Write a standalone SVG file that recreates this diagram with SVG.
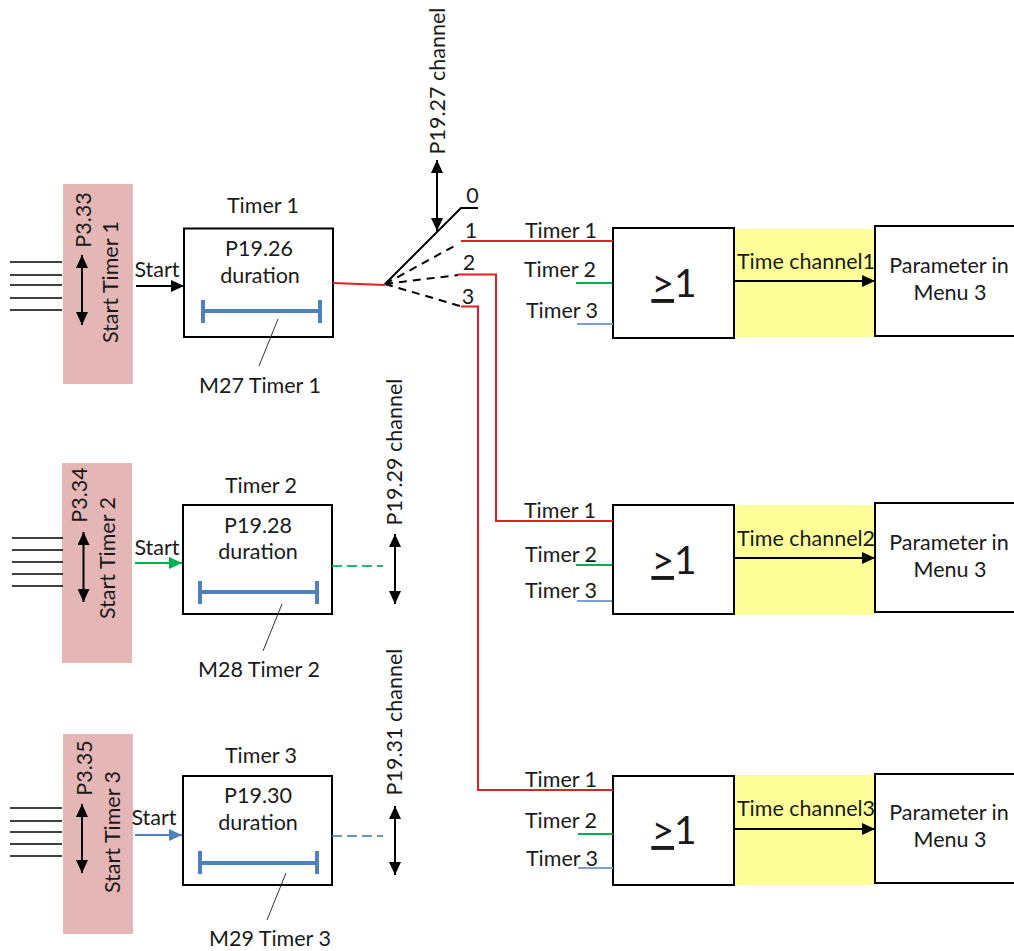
<svg xmlns="http://www.w3.org/2000/svg" width="1014" height="951" viewBox="0 0 1014 951">
<style>
text{font-family:"Lato","Open Sans","Liberation Sans",sans-serif;font-size:21.500px;fill:#1a1a1a;text-anchor:middle}
.box{fill:#fff;stroke:#000;stroke-width:2}
.pink{fill:#e4b6b5}
.yel{fill:#ffff99}
.k{stroke:#000;stroke-width:1.6;fill:none}
.k2{stroke:#000;stroke-width:2;fill:none}
.thin{stroke:#333;stroke-width:1;fill:none}
.r{stroke:#e81c24;stroke-width:2;fill:none}
.d{stroke:#000;stroke-width:2;stroke-dasharray:8 6;fill:none}
.bl{stroke:#4f81bd;stroke-width:4;fill:none}
.g{stroke:#00b050;stroke-width:2;fill:none}
.l{stroke:#7f9fd0;stroke-width:2;fill:none}
.gate{font-size:39px}
</style>
<defs>
<marker id="a" markerUnits="userSpaceOnUse" markerWidth="14" markerHeight="12" refX="13" refY="6" orient="auto-start-reverse"><path d="M0 0L13 6L0 12Z" fill="#000"/></marker>
<marker id="ag" markerUnits="userSpaceOnUse" markerWidth="14" markerHeight="12" refX="13" refY="6" orient="auto"><path d="M0 0L13 6L0 12Z" fill="#00b050"/></marker>
<marker id="ab" markerUnits="userSpaceOnUse" markerWidth="14" markerHeight="12" refX="13" refY="6" orient="auto"><path d="M0 0L13 6L0 12Z" fill="#4f81bd"/></marker>
</defs>
<g id="fills">
<rect class="yel" x="735" y="229" width="140" height="108"/>
<rect class="yel" x="735" y="505" width="140" height="110"/>
<rect class="yel" x="735" y="775" width="140" height="110"/>
</g>
<g id="start-timer-1"><rect class="pink" x="63" y="184" width="70" height="200"/>
<text transform="translate(91 220) rotate(-90)">P3.33</text><text transform="translate(118 282) rotate(-90)">Start Timer 1</text></g>
<g id="start-timer-2"><rect class="pink" x="62" y="463" width="70" height="200"/>
<text transform="translate(87 495) rotate(-90)">P3.34</text><text transform="translate(115 558) rotate(-90)">Start Timer 2</text></g>
<g id="start-timer-3"><rect class="pink" x="63" y="734" width="70" height="200"/>
<text transform="translate(92 768) rotate(-90)">P3.35</text><text transform="translate(120 832) rotate(-90)">Start Timer 3</text></g>
<g id="timer-1"><rect class="box" x="184" y="228.500" width="149" height="108.500"/><text x="263" y="212.500">Timer 1</text><text x="259" y="255.500">P19.26</text><text x="260" y="283">duration</text></g>
<g id="timer-2"><rect class="box" x="183" y="505" width="149" height="109"/><text x="261" y="492.500">Timer 2</text><text x="258" y="533">P19.28</text><text x="258" y="559">duration</text></g>
<g id="timer-3"><rect class="box" x="183" y="776" width="149" height="109"/><text x="261" y="762.500">Timer 3</text><text x="258" y="802.500">P19.30</text><text x="258" y="829.500">duration</text></g>
<g id="or-1"><rect class="box" x="613" y="228" width="121" height="110"/><text class="gate" x="674" y="297"><tspan text-decoration="underline">&gt;</tspan>1</text></g>
<g id="or-2"><rect class="box" x="613" y="505" width="121" height="109"/><text class="gate" x="674" y="574"><tspan text-decoration="underline">&gt;</tspan>1</text></g>
<g id="or-3"><rect class="box" x="613" y="776" width="121" height="109"/><text class="gate" x="674" y="844"><tspan text-decoration="underline">&gt;</tspan>1</text></g>
<g id="param-1"><rect class="box" x="875" y="226" width="141" height="110"/><text x="949" y="272.500">Parameter in</text><text x="950" y="299.500">Menu 3</text></g>
<g id="param-2"><rect class="box" x="875" y="503" width="141" height="109"/><text x="949" y="549.500">Parameter in</text><text x="950" y="577">Menu 3</text></g>
<g id="param-3"><rect class="box" x="875" y="774" width="141" height="109"/><text x="949" y="819.500">Parameter in</text><text x="950" y="846.500">Menu 3</text></g>
<g id="connectors">
<path class="k" d="M10 262H62M10 275H62M10 285H62M10 298H62M10 310H62"/>
<path class="k" d="M12 538H63M12 550H63M12 562H63M12 574H63M12 586H63"/>
<path class="k" d="M10 808H62M10 821H62M10 832H62M10 844H62M10 856H62"/>
<path class="k2" d="M82 255V325" marker-start="url(#a)" marker-end="url(#a)"/>
<path class="k2" d="M83.500 532V602" marker-start="url(#a)" marker-end="url(#a)"/>
<path class="k2" d="M82 804V873" marker-start="url(#a)" marker-end="url(#a)"/>
<path class="k2" d="M136 286H184" marker-end="url(#a)"/>
<path class="g" d="M135 563H182" marker-end="url(#ag)"/>
<path class="bl" style="stroke-width:2" d="M135 835H182" marker-end="url(#ab)"/>
<path class="bl" d="M203 311H320M203 300V323M320 300V323"/>
<path class="bl" d="M200 592H317M200 581V604M317 581V604"/>
<path class="bl" d="M200 863H317M200 851V874M317 851V874"/>
<path class="thin" d="M278 319L259 366"/><path class="thin" d="M282 604L263 651"/><path class="thin" d="M286 873L267 920"/>
<path class="r" d="M333 283L385 285"/>
<path class="k2" d="M385 284L461 208H478"/>
<path class="d" d="M385 284L458 244M385 284L458 275M385 284L460 306"/>
<path class="k2" d="M437 160V231" marker-start="url(#a)" marker-end="url(#a)"/>
<path class="r" d="M461 241H613M458 274.500H496V521H613M461 306.500H478V790H613"/>
<path class="g" d="M576 283H612M576 565H612M578 834H613"/>
<path class="l" d="M577 324H613M577 601H612M578 868H613"/>
<path style="stroke:#00b050;stroke-width:2;stroke-dasharray:10 5;opacity:.85;fill:none" d="M332 566H383"/>
<path style="stroke:#4f81bd;stroke-width:2;stroke-dasharray:10 5;opacity:.85;fill:none" d="M332 836H383"/>
<path class="k2" d="M395 534V604" marker-start="url(#a)" marker-end="url(#a)"/>
<path class="k2" d="M395 806V875" marker-start="url(#a)" marker-end="url(#a)"/>
<path class="k2" d="M735 281H875" marker-end="url(#a)"/>
<path class="k2" d="M735 558H875" marker-end="url(#a)"/>
<path class="k2" d="M735 829H875" marker-end="url(#a)"/>
</g>
<g id="labels">
<text x="157" y="276.500">Start</text><text x="157" y="554.500">Start</text><text x="154" y="824.500">Start</text>
<text x="260" y="392.500">M27 Timer 1</text><text x="259" y="676.500">M28 Timer 2</text><text x="270" y="945.500">M29 Timer 3</text>
<text x="472.500" y="203">0</text><text x="471" y="237.500">1</text><text x="469" y="270">2</text><text x="468" y="303.500">3</text>
<text transform="translate(445 81) rotate(-90)">P19.27 channel</text>
<text transform="translate(402 452) rotate(-90)">P19.29 channel</text>
<text transform="translate(402 722) rotate(-90)">P19.31 channel</text>
<text x="561" y="237.500">Timer 1</text><text x="560" y="276.500">Timer 2</text><text x="562" y="317.500">Timer 3</text>
<text x="560" y="517.500">Timer 1</text><text x="561" y="561.500">Timer 2</text><text x="561" y="597.500">Timer 3</text>
<text x="561" y="786.500">Timer 1</text><text x="561" y="827.500">Timer 2</text><text x="562" y="865.500">Timer 3</text>
<text x="806" y="268.500">Time channel1</text><text x="806" y="545.500">Time channel2</text><text x="806" y="815.500">Time channel3</text>
</g>
</svg>
